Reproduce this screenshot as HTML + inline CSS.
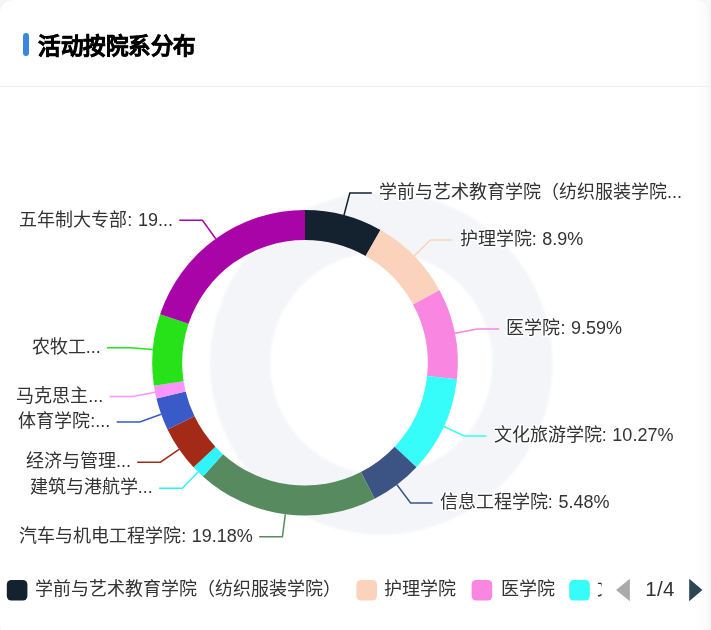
<!DOCTYPE html>
<html lang="zh-CN"><head><meta charset="utf-8">
<style>
html,body{margin:0;padding:0;}
body{width:711px;height:630px;overflow:hidden;background:#f6f6f6;font-family:"Liberation Sans",sans-serif;position:relative;}
.card{position:absolute;left:0;top:0;width:709px;height:637px;background:#fff linear-gradient(90deg,rgba(0,0,0,0) 0,rgba(0,0,0,0) 692px,rgba(0,0,0,0.012) 704px,rgba(0,0,0,0.025) 709px);border-radius:13px;box-shadow:0 0 5px rgba(0,0,0,0.02);}
.bar{position:absolute;left:23px;top:33px;width:6px;height:23px;border-radius:3px;background:#3b86e0;}
.title{position:absolute;left:38px;top:32px;font-size:22.5px;letter-spacing:-0.5px;font-weight:bold;color:#000;line-height:30px;white-space:nowrap;-webkit-text-stroke:0.6px #000;}
.divider{position:absolute;left:0;top:86px;width:709px;height:1px;background:#eeeff2;}
svg{position:absolute;left:0;top:0;will-change:transform;}
.title{will-change:transform;}
.lbl text{font-size:18px;fill:#333;stroke:#fff;stroke-width:3px;paint-order:stroke;stroke-linejoin:round;}
.leg text{font-size:18px;fill:#333;}
</style></head><body>
<div class="card"></div>
<div class="bar"></div>
<div class="title">活动按院系分布</div>
<div class="divider"></div>
<svg width="711" height="630" viewBox="0 0 711 630" font-family="Liberation Sans, sans-serif">
<defs>
<filter id="soft" filterUnits="userSpaceOnUse" x="150" y="130" width="470" height="470"><feGaussianBlur stdDeviation="0.8"/></filter>
<clipPath id="legclip"><rect x="0" y="560" width="601.6" height="60"/></clipPath>
</defs>
<circle cx="381.3" cy="363.2" r="141.25" fill="none" stroke="#f4f5f9" stroke-width="60.1" filter="url(#soft)"/>
<g><path d="M305.00,209.95A152.8,152.8 0 0 1 380.45,229.88L365.64,255.96A122.8,122.8 0 0 0 305.00,239.95Z" fill="#13222e"/>
<path d="M380.45,229.88A152.8,152.8 0 0 1 439.47,290.18L413.07,304.43A122.8,122.8 0 0 0 365.64,255.96Z" fill="#fbd3bc"/>
<path d="M439.47,290.18A152.8,152.8 0 0 1 456.92,379.16L427.09,375.94A122.8,122.8 0 0 0 413.07,304.43Z" fill="#f986e0"/>
<path d="M456.92,379.16A152.8,152.8 0 0 1 416.48,467.25L394.59,446.74A122.8,122.8 0 0 0 427.09,375.94Z" fill="#36fdf9"/>
<path d="M416.48,467.25A152.8,152.8 0 0 1 374.66,498.75L360.99,472.05A122.8,122.8 0 0 0 394.59,446.74Z" fill="#3c5483"/>
<path d="M374.66,498.75A152.8,152.8 0 0 1 202.92,476.45L222.96,454.13A122.8,122.8 0 0 0 360.99,472.05Z" fill="#578a5f"/>
<path d="M202.92,476.45A152.8,152.8 0 0 1 193.52,467.25L215.41,446.74A122.8,122.8 0 0 0 222.96,454.13Z" fill="#30f4fb"/>
<path d="M193.52,467.25A152.8,152.8 0 0 1 167.54,429.47L194.53,416.37A122.8,122.8 0 0 0 215.41,446.74Z" fill="#a22a17"/>
<path d="M167.54,429.47A152.8,152.8 0 0 1 156.46,398.58L185.62,391.55A122.8,122.8 0 0 0 194.53,416.37Z" fill="#3a5ac8"/>
<path d="M156.46,398.58A152.8,152.8 0 0 1 153.93,385.68L183.59,381.18A122.8,122.8 0 0 0 185.62,391.55Z" fill="#fa96fb"/>
<path d="M153.93,385.68A152.8,152.8 0 0 1 160.09,314.28L188.54,323.80A122.8,122.8 0 0 0 183.59,381.18Z" fill="#27e219"/>
<path d="M160.09,314.28A152.8,152.8 0 0 1 305.00,209.95L305.00,239.95A122.8,122.8 0 0 0 188.54,323.80Z" fill="#a804a8"/></g>
<g fill="none" stroke-width="1.5"><polyline points="344.02,215.02 349.81,193.07 371.81,193.07" stroke="#13222e"/>
<polyline points="414.20,255.87 430.43,240.00 452.43,240.00" stroke="#fbd3bc"/>
<polyline points="454.94,333.34 477.22,328.97 499.22,328.97" stroke="#f986e0"/>
<polyline points="443.87,426.50 464.50,435.97 486.50,435.97" stroke="#36fdf9"/>
<polyline points="396.93,484.80 410.59,502.94 432.59,502.94" stroke="#3c5483"/>
<polyline points="285.33,514.28 282.40,536.79 259.20,536.79" stroke="#578a5f"/>
<polyline points="198.12,471.95 182.25,488.18 159.05,488.18" stroke="#30f4fb"/>
<polyline points="179.10,449.34 160.40,462.21 137.20,462.21" stroke="#a22a17"/>
<polyline points="161.17,414.32 139.80,421.99 116.60,421.99" stroke="#3a5ac8"/>
<polyline points="155.06,392.16 132.78,396.53 109.58,396.53" stroke="#fa96fb"/>
<polyline points="152.77,349.61 130.15,347.66 106.95,347.66" stroke="#27e219"/>
<polyline points="215.72,238.75 202.46,220.32 179.26,220.32" stroke="#a804a8"/></g>
<g class="lbl"><text x="379.06" y="198.27" text-anchor="start">学前与艺术教育学院（纺织服装学院...</text>
<text x="459.68" y="245.20" text-anchor="start">护理学院<tspan letter-spacing="0.3">: </tspan>8.9%</text>
<text x="506.47" y="334.17" text-anchor="start">医学院<tspan letter-spacing="0.3">: </tspan>9.59%</text>
<text x="493.75" y="441.17" text-anchor="start">文化旅游学院<tspan letter-spacing="0.3">: </tspan>10.27%</text>
<text x="439.84" y="508.14" text-anchor="start">信息工程学院<tspan letter-spacing="0.3">: </tspan>5.48%</text>
<text x="252.90" y="541.99" text-anchor="end">汽车与机电工程学院<tspan letter-spacing="0.3">: </tspan>19.18%</text>
<text x="152.75" y="493.38" text-anchor="end">建筑与港航学...</text>
<text x="130.90" y="467.41" text-anchor="end">经济与管理...</text>
<text x="110.30" y="427.19" text-anchor="end">体育学院:...</text>
<text x="103.28" y="401.73" text-anchor="end">马克思主...</text>
<text x="100.65" y="352.86" text-anchor="end">农牧工...</text>
<text x="172.96" y="225.52" text-anchor="end">五年制大专部<tspan letter-spacing="0.3">: </tspan>19...</text></g>
<g class="leg" clip-path="url(#legclip)"><rect x="6.8" y="580" width="20.6" height="20.6" rx="4.5" fill="#13222e"/>
<text x="34.5" y="595">学前与艺术教育学院（纺织服装学院）</text>
<rect x="356.4" y="580" width="20.6" height="20.6" rx="4.5" fill="#fbd3bc"/>
<text x="384.1" y="595">护理学院</text>
<rect x="471.6" y="580" width="20.6" height="20.6" rx="4.5" fill="#f986e0"/>
<text x="500.5" y="595">医学院</text>
<rect x="569.2" y="580" width="20.6" height="20.6" rx="4.5" fill="#36fdf9"/>
<text x="597.1" y="595">文化旅游学院</text></g>
<path d="M616.1,590 L629.9,578.8 L629.9,601.2 Z" fill="#aaaaaa"/>
<text x="645.3" y="595.6" font-size="20.5" letter-spacing="0.3" fill="#333">1/4</text>
<path d="M702.4,590 L689.2,578.8 L689.2,601.2 Z" fill="#2f4554"/>
</svg>
</body></html>
